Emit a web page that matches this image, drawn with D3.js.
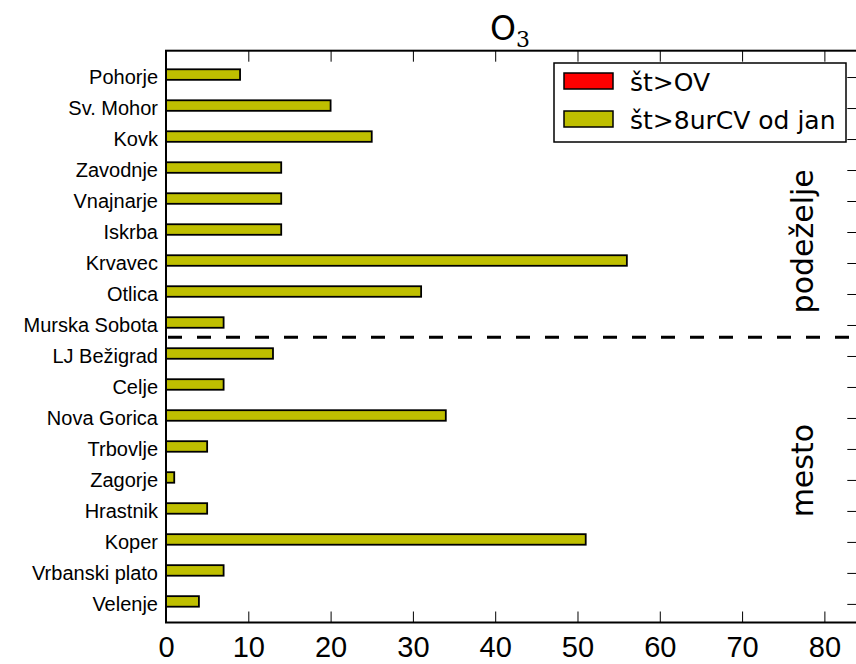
<!DOCTYPE html>
<html>
<head>
<meta charset="utf-8">
<title>O3</title>
<style>
  body { margin: 0; background: #fff; }
  svg { display: block; font-family: "DejaVu Sans", sans-serif; }
</style>
</head>
<body>
<div id="chart"></div>
<script src="https://d3js.org/d3.v7.min.js"></script>
<script>
// stations, top to bottom
const stations = ['Pohorje', 'Sv. Mohor', 'Kovk', 'Zavodnje', 'Vnajnarje', 'Iskrba', 'Krvavec', 'Otlica',
  'Murska Sobota', 'LJ Bežigrad', 'Celje', 'Nova Gorica', 'Trbovlje', 'Zagorje', 'Hrastnik', 'Koper',
  'Vrbanski plato', 'Velenje'];
const overOV = [0, 0, 0, 0, 0, 0, 0, 0, 0, 0, 0, 0, 0, 0, 0, 0, 0, 0];
const over8hCV = [9, 20, 25, 14, 14, 14, 56, 31, 7, 13, 7, 34, 5, 1, 5, 51, 7, 4];
const xTicks = [0, 10, 20, 30, 40, 50, 60, 70, 80];
const seriesNames = ['št>OV', 'št>8urCV od jan'];
const seriesColors = ['#ff0000', '#bfbf00'];
const groups = [{ name: 'podeželje', mid: 5.3 }, { name: 'mesto', mid: 12.7 }];
const splitAt = 8.4;

const W = 856, H = 664;
const mLeft = 166, mRight = 857.3, mTop = 50.7, mBottom = 622.5;

const svg = d3.select('#chart').append('svg').attr('width', W).attr('height', H);

const x = d3.scaleLinear().domain([0, 84]).range([mLeft, mRight]);
const y = d3.scaleLinear().domain([-0.85, 17.6]).range([mTop, mBottom]);

// axes (matplotlib style: ticks inward on all sides)
const xb = d3.axisBottom(x).tickValues(xTicks).tickSize(-11).tickPadding(14).tickFormat(d3.format('d'));
const xt = d3.axisTop(x).tickValues(xTicks).tickSize(-11).tickFormat('');
const yIdx = d3.range(stations.length);
const yl = d3.axisLeft(y).tickValues(yIdx).tickSize(-8).tickPadding(8).tickFormat(i => stations[i]);
const yr = d3.axisRight(y).tickValues(yIdx).tickSize(-10).tickFormat('');

function styleAxis(g) {
  g.select('.domain').remove();
  g.selectAll('.tick line').attr('stroke', '#000').attr('stroke-width', 1);
  g.selectAll('.tick text').attr('fill', '#000');
}
svg.append('g').attr('transform', `translate(0,${mBottom})`).call(xb).call(styleAxis)
  .selectAll('text').style('font-size', '29px');
svg.append('g').attr('transform', `translate(0,${mTop})`).call(xt).call(styleAxis);
svg.append('g').attr('transform', `translate(${mLeft},0)`).call(yl).call(styleAxis)
  .selectAll('text').style('font-size', '20px');
svg.append('g').attr('transform', `translate(${mRight},0)`).call(yr).call(styleAxis);

// bars
const bh = y(0.34) - y(0);
svg.append('g').selectAll('rect.cv').data(over8hCV).enter().append('rect')
  .attr('x', x(0)).attr('y', (d, i) => y(i - 0.25))
  .attr('width', d => x(d) - x(0)).attr('height', bh)
  .attr('fill', seriesColors[1]).attr('stroke', '#000').attr('stroke-width', 1.8);
svg.append('g').selectAll('rect.ov').data(overOV).enter().append('rect')
  .attr('x', x(0)).attr('y', (d, i) => y(i - 0.25))
  .attr('width', d => x(d) - x(0)).attr('height', bh)
  .attr('fill', seriesColors[0]).attr('stroke', '#000').attr('stroke-width', 1.8);

// frame
svg.append('rect').attr('x', mLeft).attr('y', mTop).attr('width', mRight - mLeft).attr('height', mBottom - mTop)
  .attr('fill', 'none').attr('stroke', '#000').attr('stroke-width', 2);

// split line between rural and urban stations
svg.append('line').attr('x1', mLeft + 2).attr('x2', mRight).attr('y1', y(splitAt)).attr('y2', y(splitAt))
  .attr('stroke', '#000').attr('stroke-width', 3).attr('stroke-dasharray', '14,15');

// group labels
svg.selectAll('text.grp').data(groups).enter().append('text')
  .attr('transform', d => `translate(813,${y(d.mid)}) rotate(-90)`)
  .attr('text-anchor', 'middle').style('font-size', '30px').attr('fill', '#000')
  .text(d => d.name);

// title O3
const title = svg.append('text').attr('x', 510).attr('y', 40).attr('text-anchor', 'middle').attr('fill', '#000');
title.append('tspan').style('font-size', '33px').text('O');
title.append('tspan').attr('dy', 7).style('font-size', '22px')
  .style('font-family', '"DejaVu Serif", serif').text('3');

// legend
const lg = svg.append('g');
lg.append('rect').attr('x', 554).attr('y', 63).attr('width', 292).attr('height', 79)
  .attr('fill', '#fff').attr('stroke', '#000').attr('stroke-width', 1.5);
seriesNames.forEach((name, i) => {
  const yy = 73 + i * 38;
  lg.append('rect').attr('x', 564).attr('y', yy).attr('width', 49).attr('height', 16)
    .attr('fill', seriesColors[i]).attr('stroke', '#000').attr('stroke-width', 1.5);
  lg.append('text').attr('x', 630).attr('y', yy + 18).style('font-size', '25px').attr('fill', '#000').text(name);
});
</script>
</body>
</html>
